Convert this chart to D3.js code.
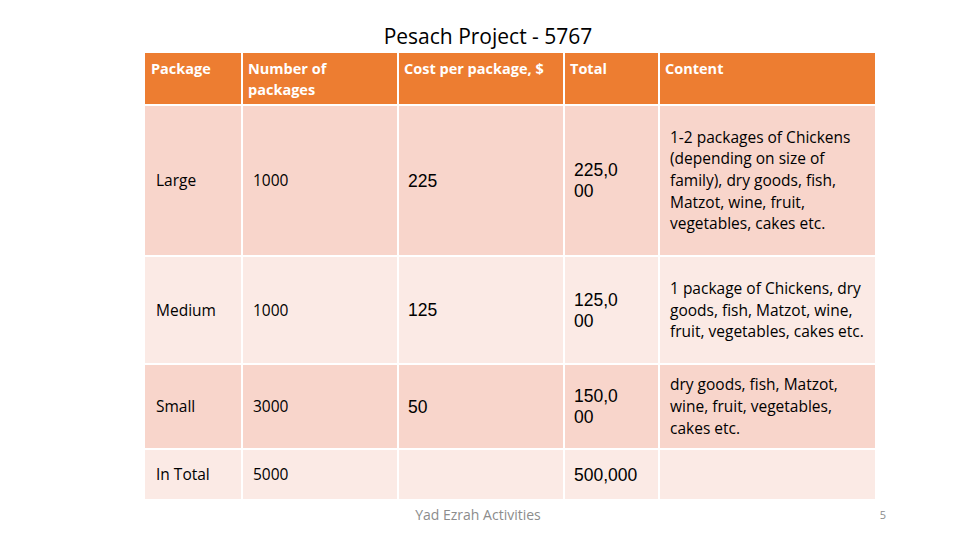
<!DOCTYPE html>
<html>
<head>
<meta charset="utf-8">
<script src="https://cdn.jsdelivr.net/npm/d3@7"></script>
<style>
  body { margin: 0; background: #fff; }
  svg { display: block; }
</style>
</head>
<body>
<div id="chart"></div>
<script>
// table data
const headers = [["Package"], ["Number of", "packages"], ["Cost per package, $"], ["Total"], ["Content"]];
const packages = ["Large", "Medium", "Small", "In Total"];
const counts = ["1000", "1000", "3000", "5000"];
const costs = ["225", "125", "50", ""];
const totals = [["225,0", "00"], ["125,0", "00"], ["150,0", "00"], ["500,000"]];
const contents = [
  ["1-2 packages of Chickens", "(depending on size of", "family), dry goods, fish,", "Matzot, wine, fruit,", "vegetables, cakes etc."],
  ["1 package of Chickens, dry", "goods, fish, Matzot, wine,", "fruit, vegetables, cakes etc."],
  ["dry goods, fish, Matzot,", "wine, fruit, vegetables,", "cakes etc."],
  []
];

// layout
const W = 960, H = 540;
const colEdges = [145, 242, 398, 564, 659, 876];
const rowEdges = [53, 105, 256, 364, 449, 500];
const gap = 2;
const orange = "#ED7D31", bandDark = "#F8D5CB", bandLight = "#FBEAE5";
const sans = "'Open Sans', sans-serif";
const arial = "'Liberation Sans', Arial, sans-serif";

const svg = d3.select("#chart").append("svg")
    .attr("width", W)
    .attr("height", H);

// title
svg.append("text")
    .attr("x", 488).attr("y", 44)
    .attr("text-anchor", "middle")
    .style("font-family", sans)
    .style("font-size", "21px")
    .attr("fill", "#000")
    .text("Pesach Project - 5767");

// cells
const rowsData = packages.map((p, i) => [[p], [counts[i]], [costs[i]], totals[i], contents[i]]);
const allRows = [headers].concat(rowsData);

allRows.forEach((row, r) => {
  const y0 = rowEdges[r], y1 = rowEdges[r + 1];
  const fill = r === 0 ? orange : (r % 2 === 1 ? bandDark : bandLight);
  row.forEach((lines, c) => {
    const x0 = colEdges[c], x1 = colEdges[c + 1];
    svg.append("rect")
        .attr("x", x0 + (c === 0 ? 0 : gap / 2))
        .attr("y", y0 + (r === 0 ? 0 : gap / 2))
        .attr("width", x1 - x0 - (c === 0 ? gap / 2 : gap))
        .attr("height", y1 - y0 - (r === 0 ? gap / 2 : gap))
        .attr("fill", fill);

    if (!lines.length || lines[0] === "") return;

    const isHeader = r === 0;
    const useArial = !isHeader && (c === 2 || c === 3);
    const fs = isHeader ? 14.5 : (useArial ? 17.5 : 15.5);
    const lh = isHeader ? 21 : (c === 4 ? 21.7 : 21);
    const tx = isHeader ? x0 + 6 : x0 + (c === 2 || c === 3 ? 10 : 11);
    let firstY;
    if (isHeader) {
      firstY = y0 + 21;
    } else {
      const cy = (y0 + y1) / 2;
      firstY = cy - (lines.length - 1) * lh / 2 + (useArial ? 6 : 5.5);
    }
    const t = svg.append("text")
        .style("font-family", useArial ? arial : sans)
        .style("font-size", fs + "px")
        .style("font-weight", isHeader ? "bold" : "normal")
        .attr("fill", isHeader ? "#fff" : "#000");
    t.selectAll("tspan").data(lines).join("tspan")
        .attr("x", tx)
        .attr("y", (d, i) => firstY + i * lh)
        .text(d => d);
  });
});

// footer
svg.append("text")
    .attr("x", 478).attr("y", 520)
    .attr("text-anchor", "middle")
    .style("font-family", sans)
    .style("font-size", "14px")
    .attr("fill", "#8c8c8c")
    .text("Yad Ezrah Activities");
svg.append("text")
    .attr("x", 886).attr("y", 519)
    .attr("text-anchor", "end")
    .style("font-family", sans)
    .style("font-size", "11px")
    .attr("fill", "#8c8c8c")
    .text("5");
</script>
</body>
</html>
